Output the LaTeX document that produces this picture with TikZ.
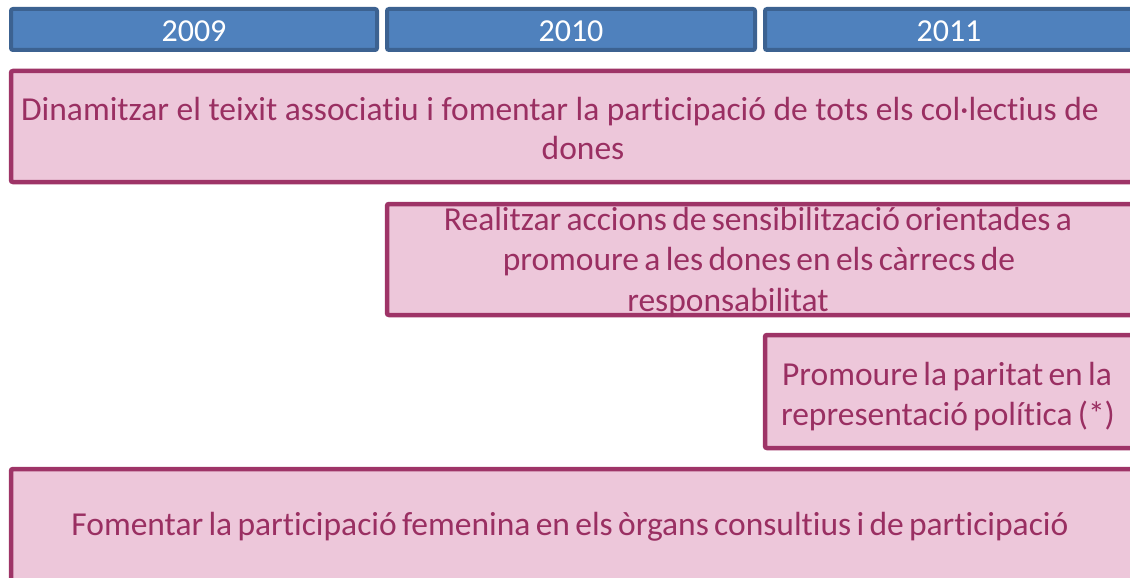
\documentclass[tikz,border=0pt]{standalone}
\usepackage{fontspec}
\setmainfont{Carlito}[Ligatures=NoCommon, WordSpace=0.7]
\newfontface\widerspace{Carlito}[Ligatures=NoCommon, WordSpace=1.0]
\definecolor{pinkfill}{HTML}{EDC7DA}
\definecolor{pinkline}{HTML}{9E3467}
\definecolor{pinktext}{HTML}{9A2F62}
\definecolor{bluefill}{HTML}{4F81BD}
\definecolor{blueline}{HTML}{3C6291}
\tikzset{
  yearbox/.style={draw=blueline, fill=bluefill, line width=4pt, rounded corners=2pt},
  actbox/.style={draw=pinkline, fill=pinkfill, line width=4.5pt, rounded corners=2pt},
  yeartext/.style={text=white, font=\fontsize{32}{38}\selectfont, anchor=base, inner sep=0pt},
  acttext/.style={text=pinktext, font=\fontsize{33.5}{40}\selectfont, anchor=base, inner sep=0pt, align=center},
}
\begin{document}
\begin{tikzpicture}[x=1pt,y=-1pt]
\useasboundingbox (0,0) rectangle (1130,578);
\clip (0,0) rectangle (1130,578);
% year bars
\draw[yearbox] (11,9) rectangle (377,50) node[midway] (y2009box) {};
\draw[yearbox] (387,9) rectangle (755,50) node[midway] (y2010box) {};
\draw[yearbox] (765,9) rectangle (1145,50) node[midway] (y2011box) {};
\node[yeartext] (y2009) at (194,42) {2009};
\node[yeartext] (y2010) at (571,42) {2010};
\node[yeartext] (y2011) at (949,42) {2011};
% activity boxes
\draw[actbox] (11,71) rectangle (1145,182) node[midway] (b1) {};
\draw[actbox] (387,204) rectangle (1145,315) node[midway] (b2) {};
\draw[actbox] (765,335) rectangle (1145,448) node[midway] (b3) {};
\draw[actbox] (11,469) rectangle (1145,600) node[midway] (b4) {};
\node[acttext, font=\fontsize{33.5}{40}\widerspace] (t1a) at (560,120) {Dinamitzar el teixit associatiu i fomentar la participació de tots els col·lectius de};
\node[acttext] (t1b) at (583,159) {dones};
\node[acttext] (t2a) at (758,230) {Realitzar accions de sensibilització orientades a};
\node[acttext] (t2b) at (759,270) {promoure a les dones en els càrrecs de};
\node[acttext] (t2c) at (728,311) {responsabilitat};
\node[acttext] (t3a) at (947,385) {Promoure la paritat en la};
\node[acttext] (t3b) at (948,425) {representació política (*)};
\node[acttext] (t4) at (570,535) {Fomentar la participació femenina en els òrgans consultius i de participació};
\end{tikzpicture}
\end{document}
